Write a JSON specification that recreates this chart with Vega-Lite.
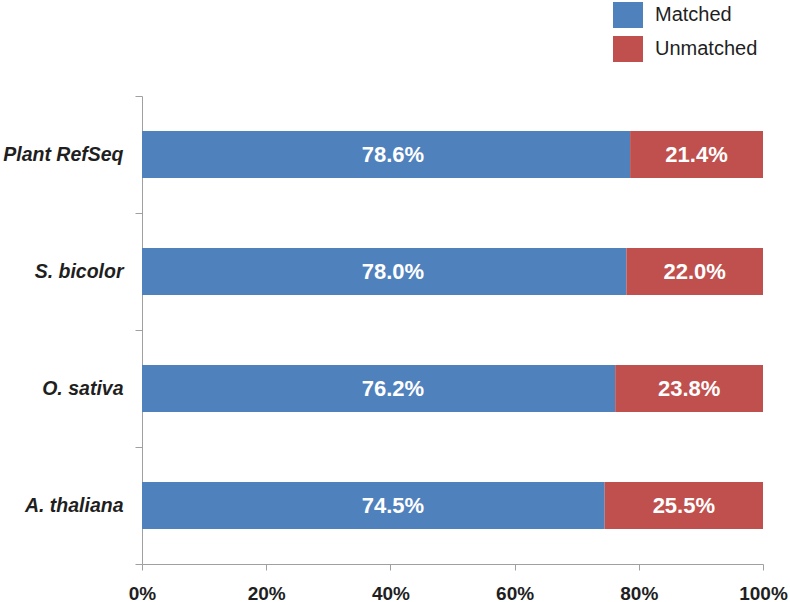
{
  "$schema": "https://vega.github.io/schema/vega-lite/v6.json",
  "width": 621,
  "height": 468,
  "autosize": {"type": "none"},
  "padding": {"left": 142, "top": 96, "right": 27, "bottom": 38},
  "background": "white",
  "config": {"view": {"stroke": null}, "font": "Liberation Sans"},
  "data": {
    "values": [
      {"dataset": "Plant RefSeq", "status": "Matched", "value": 0.786},
      {"dataset": "Plant RefSeq", "status": "Unmatched", "value": 0.214},
      {"dataset": "S. bicolor", "status": "Matched", "value": 0.780},
      {"dataset": "S. bicolor", "status": "Unmatched", "value": 0.220},
      {"dataset": "O. sativa", "status": "Matched", "value": 0.762},
      {"dataset": "O. sativa", "status": "Unmatched", "value": 0.238},
      {"dataset": "A. thaliana", "status": "Matched", "value": 0.745},
      {"dataset": "A. thaliana", "status": "Unmatched", "value": 0.255}
    ]
  },
  "transform": [
    {"stack": "value", "groupby": ["dataset"], "sort": [{"field": "status", "order": "ascending"}], "as": ["x0", "x1"]},
    {"calculate": "(datum.x0 + datum.x1) / 2", "as": "mid"}
  ],
  "encoding": {
    "y": {
      "field": "dataset",
      "type": "nominal",
      "sort": ["Plant RefSeq", "S. bicolor", "O. sativa", "A. thaliana"],
      "scale": {"paddingInner": 0, "paddingOuter": 0},
      "axis": {
        "title": null,
        "labelFont": "Liberation Sans",
        "labelFontSize": 19.5,
        "labelFontWeight": "bold",
        "labelFontStyle": "italic",
        "labelColor": "#1f1f1f",
        "labelPadding": 12,
        "tickSize": 7,
        "tickBand": "extent",
        "tickColor": "#a0a0a0",
        "domainColor": "#a0a0a0",
        "grid": false
      }
    }
  },
  "layer": [
    {
      "mark": {"type": "bar", "height": {"band": 0.4}},
      "encoding": {
        "x": {
          "field": "x0",
          "type": "quantitative",
          "scale": {"domain": [0, 1], "nice": false},
          "axis": {
            "title": null,
            "values": [0, 0.2, 0.4, 0.6, 0.8, 1],
            "format": ".0%",
            "labelFont": "Liberation Sans",
            "labelFontSize": 19,
            "labelFontWeight": "bold",
            "labelColor": "#1f1f1f",
            "labelPadding": 14,
            "tickSize": 6,
            "tickColor": "#a0a0a0",
            "domainColor": "#a0a0a0",
            "grid": false,
            "labelFlush": false,
            "labelOverlap": false
          }
        },
        "x2": {"field": "x1"},
        "color": {
          "field": "status",
          "type": "nominal",
          "scale": {"domain": ["Matched", "Unmatched"], "range": ["#4F81BD", "#C0504D"]},
          "legend": {
            "title": null,
            "orient": "none",
            "legendX": 471,
            "legendY": -96,
            "padding": 0,
            "symbolType": "M-1,-0.867H1V0.867H-1Z",
            "symbolSize": 900,
            "symbolStrokeWidth": 0,
            "labelFont": "Liberation Sans",
            "labelFontSize": 20,
            "labelColor": "#1f1f1f",
            "labelOffset": 12,
            "rowPadding": 5
          }
        }
      }
    },
    {
      "transform": [{"filter": "datum.status === 'Unmatched'"}],
      "mark": {"type": "text", "color": "white", "fontWeight": "bold", "fontSize": 22, "font": "Liberation Sans"},
      "encoding": {
        "x": {"field": "mid", "type": "quantitative"},
        "text": {"field": "value", "type": "quantitative", "format": ".1%"}
      }
    },
    {
      "transform": [{"filter": "datum.status === 'Matched'"}],
      "mark": {"type": "text", "color": "white", "fontWeight": "bold", "fontSize": 22, "font": "Liberation Sans"},
      "encoding": {
        "x": {"datum": 0.404, "type": "quantitative"},
        "text": {"field": "value", "type": "quantitative", "format": ".1%"}
      }
    }
  ]
}
